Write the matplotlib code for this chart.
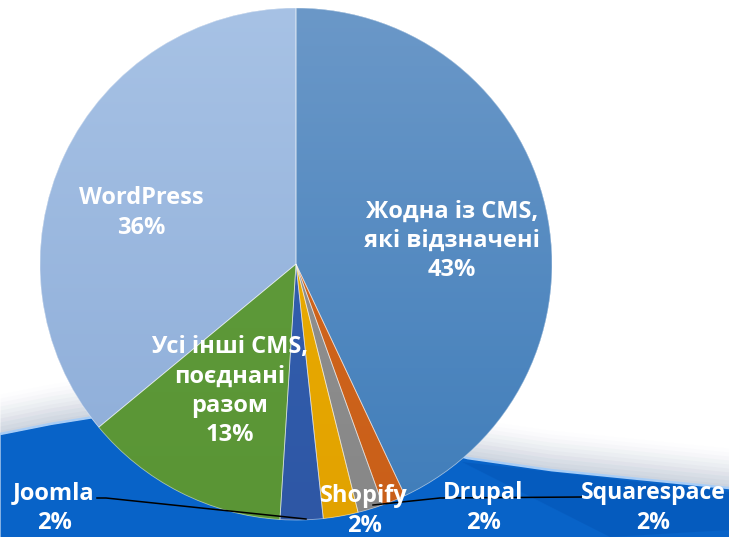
import numpy as np
import matplotlib
matplotlib.use('Agg')
import matplotlib.pyplot as plt
from matplotlib.colors import LinearSegmentedColormap
from matplotlib.patches import Wedge

# ---- data ----
categories = ['Жодна із CMS,\nякі відзначені', 'Drupal', 'Squarespace', 'Shopify',
              'Joomla', 'Усі інші CMS,\nпоєднані\nразом', 'WordPress']
# slice sizes (labels are rounded)
values = [43.0, 1.5, 1.6, 2.2, 2.7, 13.0, 36.0]
pct_labels = ['43%', '2%', '2%', '2%', '2%', '13%', '36%']

top_colors = ['#6B98C8', '#D66A1F', '#979797', '#EFB200', '#3765B6', '#619D3D', '#A7C2E5']
bot_colors = ['#3F7DBA', '#C95F19', '#878787', '#E2A200', '#2E57A5', '#5A9535', '#8CACD8']

W, H = 729, 537
def Y(y):
    return H - y

fig = plt.figure(figsize=(7.29, 5.37), dpi=100)
ax = fig.add_axes([0, 0, 1, 1])

# ---- background wave ----
bx = np.array([0, 50, 100, 160, 220, 300, 400, 467, 550, 650, 729])
by = np.array([434, 424, 416, 410, 408, 415, 440, 458, 470, 480, 488])
xs = np.linspace(0, W, 400)
ys = np.interp(xs, bx, by)
for k, a in enumerate(np.linspace(0.18, 0.02, 10)):
    ax.fill_between(xs, Y(ys), Y(ys - 4 * (k + 1)), color='#b9c3d3', alpha=a, lw=0, zorder=0)
ax.fill_between(xs, 0, Y(ys), color='#0863C8', lw=0, zorder=0.5)
# darker band on the right
dx = np.array([462, 729, 729, 610])
dy = np.array([462, 492, 530, 537])
ax.fill(dx, Y(dy), color='#0454B5', lw=0, zorder=0.6, alpha=0.5)
ax.plot(xs, Y(ys), color='#a8cdf6', lw=1.8, zorder=0.7)

# ---- pie ----
cx, cy, r = 296, Y(264), 256
wedges, _ = ax.pie(values, colors=bot_colors, startangle=90, counterclock=False,
                   center=(cx, cy), radius=r,
                   wedgeprops=dict(linewidth=0, zorder=2))
grad = np.linspace(1, 0, 256).reshape(-1, 1)
for w, tc, bc in zip(wedges, top_colors, bot_colors):
    cmap = LinearSegmentedColormap.from_list('g', [bc, tc])
    im = ax.imshow(grad, extent=[cx - r, cx + r, cy - r, cy + r], origin='upper',
                   cmap=cmap, aspect='auto', zorder=3, vmin=0, vmax=1)
    im.set_clip_path(w)
    outline = Wedge(w.center, w.r, w.theta1, w.theta2, fill=False,
                    edgecolor=(1, 1, 1, 0.5), lw=0.6, zorder=4)
    ax.add_patch(outline)

# ---- leader lines ----
ax.plot([97, 106, 306], [Y(498), Y(498), Y(519)], color='black', lw=1.1, zorder=5)
ax.plot([583, 440, 373], [Y(497), Y(498), Y(505)], color='black', lw=1.1, zorder=5)

# ---- labels ----
fp = dict(color='white', fontweight='bold', family=['Open Sans', 'DejaVu Sans'],
          ha='center', va='center', zorder=6, linespacing=1.28)
fs = 17
label_pos = [(452, 241), (483, 508), (653, 508), (364, 511), (54, 508), (230, 391), (141, 213)]
for cat, pct, (lx, ly) in zip(categories, pct_labels, label_pos):
    ax.text(lx, Y(ly), cat + '\n' + pct, fontsize=fs if lx != 653 else 16.6, **fp)

ax.set_xlim(0, W)
ax.set_ylim(0, H)
ax.set_aspect('auto')
ax.axis('off')
fig.savefig('out.png', dpi=100, facecolor='white')
